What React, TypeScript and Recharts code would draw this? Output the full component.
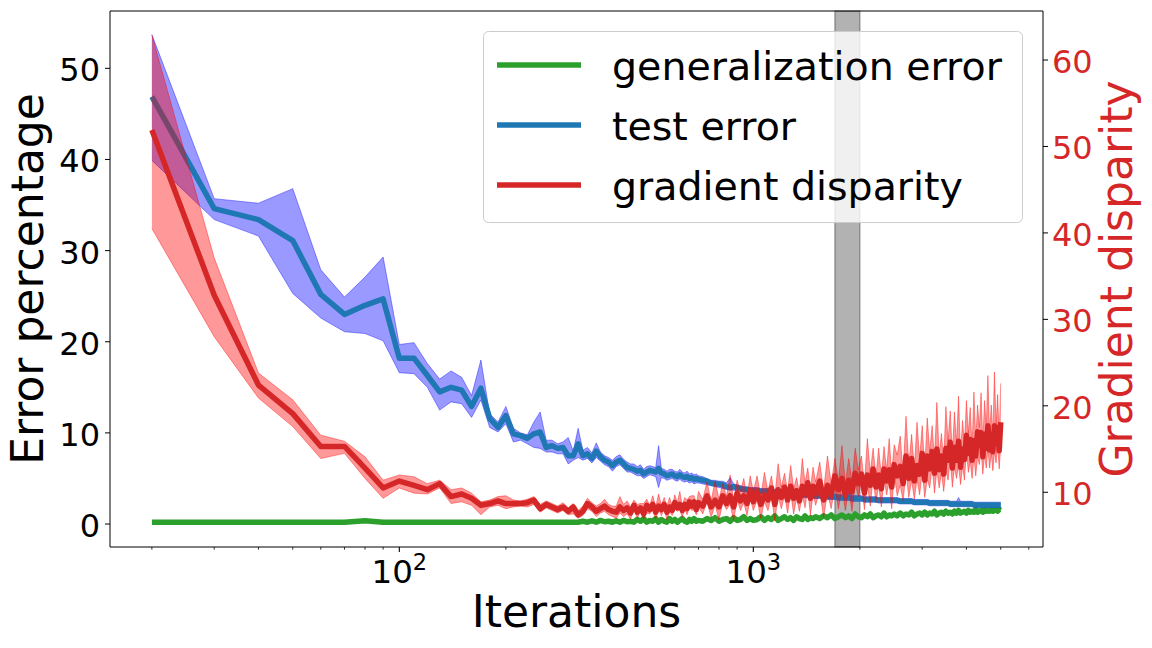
import React from 'react';
import { ComposedChart, Line, Area, XAxis, YAxis, ReferenceArea, ReferenceLine } from 'recharts';

const FONT = "'DejaVu Sans', sans-serif";

const iterations = [
  20, 30, 40, 50, 60, 70, 80, 90, 100, 110,
  120, 130, 140, 150, 160, 170, 180, 190, 200, 210,
  220, 230, 240, 250, 260, 270, 280, 290, 300, 310,
  320, 330, 340, 350, 360, 370, 380, 390, 400, 410,
  420, 430, 440, 450,
  460, 470, 480, 490, 500, 510, 520, 530, 540, 550, 560, 570, 580, 590, 600, 610, 620, 630, 640, 650, 660, 670, 680, 690, 700,
  720, 740, 760, 780, 800, 820, 840, 860, 880, 900, 920, 940, 960, 980, 1000,
  1025, 1050, 1075, 1100, 1125, 1150, 1175, 1200, 1225, 1250, 1275, 1300, 1325, 1350, 1375, 1400, 1425, 1450, 1475, 1500,
  1540, 1580, 1620, 1660, 1700, 1740, 1780, 1820, 1860, 1900, 1940, 1980, 2020, 2060, 2100, 2140, 2180, 2220, 2260, 2300, 2340, 2380, 2420, 2460, 2500,
  2550, 2600, 2650, 2700, 2750, 2800, 2850, 2900, 2950, 3000,
  3050, 3100, 3150, 3200, 3250, 3300, 3350, 3400, 3450, 3500,
  3550, 3600, 3650, 3700, 3750, 3800, 3850, 3900, 3950, 4000,
  4050, 4100, 4150, 4200, 4250, 4300, 4350, 4400, 4450, 4500,
  4550, 4600, 4650, 4700, 4750, 4800, 4850, 4900, 4950, 5000,
];

// error percentages (left axis)
const generalizationError = [
  0.2, 0.2, 0.2, 0.2, 0.2, 0.2, 0.35, 0.2, 0.2, 0.2,
  0.2, 0.2, 0.2, 0.2, 0.2, 0.2, 0.2, 0.2, 0.2, 0.2,
  0.2, 0.2, 0.2, 0.2, 0.2, 0.2, 0.2, 0.2, 0.2, 0.2,
  0.2, 0.3, 0.2, 0.35, 0.2, 0.4, 0.25, 0.3, 0.2, 0.35,
  0.2, 0.4, 0.25, 0.3,
  0.2, 0.5, 0.3, 0.6, 0.2, 0.4, 0.3, 0.6, 0.2, 0.5, 0.3, 0.2, 0.6, 0.3, 0.5, 0.2, 0.4, 0.6, 0.3, 0.2, 0.5, 0.3, 0.6, 0.3, 0.4,
  0.3, 0.6, 0.4, 0.7, 0.3, 0.5, 0.6, 0.3, 0.7, 0.4, 0.5, 0.8, 0.4, 0.6, 0.4,
  0.5, 0.8, 0.4, 0.7, 0.5, 0.9, 0.4, 0.6, 0.8, 0.5, 0.7, 0.4, 0.8, 0.6, 0.5, 0.9, 0.5, 0.7, 0.6, 0.8,
  0.6, 0.9, 0.7, 1.0, 0.6, 0.8, 1.0, 0.7, 0.9, 0.6, 1.1, 0.8, 0.7, 1.0, 0.8, 1.1, 0.7, 0.9, 1.0, 0.8, 1.2, 0.8, 1.0, 0.9, 1.1,
  0.9, 1.2, 0.9, 1.1, 1.0, 1.3, 0.9, 1.1, 1.2, 1.0,
  1.3, 1.0, 1.2, 1.1, 1.4, 1.0, 1.2, 1.3, 1.1, 1.4,
  1.2, 1.3, 1.1, 1.4, 1.2, 1.5, 1.2, 1.3, 1.4, 1.2,
  1.5, 1.3, 1.4, 1.3, 1.6, 1.3, 1.4, 1.5, 1.3, 1.6,
  1.4, 1.5, 1.4, 1.6, 1.4, 1.5, 1.6, 1.4, 1.6, 1.5,
];

const testError = [
  46.9, 34.6, 33.4, 31.1, 25.2, 23.0, 24.0, 24.7, 18.2, 18.2,
  16.3, 14.5, 15.0, 14.7, 12.9, 14.9, 11.6, 10.6, 11.9, 9.9,
  9.7, 9.4, 9.9, 10.1, 8.4, 8.6, 8.3, 8.4, 7.5, 7.5,
  8.8, 7.5, 7.7, 7.2, 8.0, 7.4, 7.0, 6.8, 6.4, 6.8,
  7.0, 6.6, 6.2, 6.1,
  6.0, 5.8, 5.9, 5.5, 5.7, 5.9, 5.8, 5.7, 6.1, 5.6, 5.5, 5.3, 5.4, 5.5, 5.3, 5.2, 5.4, 5.2, 5.1, 5.2, 5.0, 5.1, 4.9, 5.0, 4.9,
  4.8, 4.7, 4.5, 4.4, 4.4, 4.3, 4.1, 4.0, 4.1, 4.0, 3.9, 3.8, 3.8, 3.7, 3.7,
  3.7, 3.6, 3.6, 3.6, 3.5, 3.5, 3.5, 3.5, 3.4, 3.4, 3.4, 3.3, 3.3, 3.3, 3.2, 3.2, 3.2, 3.2, 3.1, 3.1,
  3.1, 3.1, 3.0, 3.0, 3.0, 2.9, 2.9, 2.9, 2.9, 2.8, 2.8, 2.8, 2.8, 2.7, 2.7, 2.7, 2.7, 2.7, 2.6, 2.6, 2.6, 2.6, 2.6, 2.6, 2.6,
  2.6, 2.5, 2.5, 2.5, 2.5, 2.5, 2.4, 2.4, 2.4, 2.4,
  2.4, 2.4, 2.3, 2.3, 2.3, 2.3, 2.3, 2.3, 2.3, 2.3,
  2.3, 2.2, 2.2, 2.2, 2.2, 2.2, 2.2, 2.2, 2.2, 2.2,
  2.2, 2.2, 2.2, 2.1, 2.1, 2.1, 2.1, 2.1, 2.1, 2.1,
  2.1, 2.1, 2.1, 2.1, 2.1, 2.1, 2.1, 2.1, 2.1, 2.1,
];

const testErrorLow = [
  39.9, 33.4, 31.6, 25.3, 22.6, 21.1, 20.9, 20.1, 16.6, 16.5,
  15.0, 12.5, 13.4, 13.2, 11.7, 13.6, 10.6, 10.1, 11.0, 9.0,
  9.2, 8.8, 8.4, 8.3, 7.9, 7.9, 7.7, 7.7, 6.6, 7.0,
  7.3, 7.0, 7.2, 6.7, 7.3, 6.9, 6.5, 6.3, 5.8, 6.3,
  6.5, 6.1, 5.7, 5.7,
  5.5, 5.3, 5.3, 5.0, 5.2, 5.4, 5.3, 5.2, 4.0, 5.1, 5.0, 4.8, 4.9, 5.0, 4.8, 4.7, 4.9, 4.7, 4.6, 4.7, 4.5, 4.6, 4.4, 4.5, 4.5,
  4.4, 4.3, 4.2, 4.1, 4.0, 3.9, 3.8, 3.7, 3.7, 3.7, 3.6, 3.5, 3.5, 3.4, 3.4,
  3.4, 3.3, 3.3, 3.3, 3.2, 3.2, 3.2, 3.2, 3.1, 3.1, 3.1, 3.0, 3.0, 3.0, 2.9, 2.9, 2.9, 2.9, 2.8, 2.8,
  2.8, 2.8, 2.7, 2.7, 2.7, 2.6, 2.6, 2.6, 2.6, 2.5, 2.5, 2.5, 2.5, 2.4, 2.4, 2.4, 2.4, 2.4, 2.3, 2.3, 2.3, 2.3, 2.3, 2.3, 2.3,
  2.3, 2.2, 2.2, 2.2, 2.2, 2.2, 2.1, 2.1, 2.1, 2.1,
  2.1, 2.1, 2.0, 2.0, 2.0, 2.0, 2.0, 2.0, 2.0, 2.0,
  2.0, 1.9, 1.9, 1.9, 1.9, 1.9, 1.9, 1.9, 1.9, 1.9,
  1.9, 1.9, 1.9, 1.8, 1.8, 1.8, 1.8, 1.8, 1.8, 1.8,
  1.8, 1.8, 1.8, 1.8, 1.8, 1.8, 1.8, 1.8, 1.8, 1.8,
];

const testErrorHigh = [
  53.7, 35.7, 35.2, 36.8, 27.9, 24.9, 27.1, 29.3, 19.7, 19.9,
  17.6, 15.9, 16.8, 16.1, 14.1, 18.0, 12.1, 11.2, 12.9, 10.5,
  10.0, 9.8, 11.2, 12.3, 9.2, 9.2, 8.8, 9.0, 9.5, 8.0,
  10.5, 8.1, 8.4, 7.8, 8.9, 7.9, 7.5, 7.3, 7.0, 7.4,
  7.6, 7.1, 6.8, 6.6,
  6.6, 6.3, 6.5, 6.0, 6.3, 6.4, 6.3, 6.2, 8.6, 6.1, 6.0, 5.8, 6.0, 6.0, 5.8, 5.7, 6.0, 5.7, 5.6, 5.8, 5.5, 5.6, 5.4, 5.5, 5.3,
  5.2, 5.0, 4.8, 4.8, 4.7, 4.7, 4.5, 5.1, 4.4, 4.3, 4.2, 4.1, 4.1, 4.0, 4.0,
  4.0, 3.9, 3.9, 3.9, 3.8, 3.8, 3.8, 3.8, 3.7, 3.7, 3.7, 3.6, 3.6, 3.6, 3.5, 3.5, 3.5, 3.5, 3.4, 3.4,
  3.4, 3.4, 3.3, 3.3, 3.3, 3.2, 3.2, 3.2, 3.6, 3.1, 3.1, 3.1, 3.1, 3.0, 3.0, 3.0, 3.0, 3.0, 2.9, 2.9, 2.9, 2.9, 2.9, 2.9, 2.9,
  2.9, 2.8, 2.8, 2.8, 2.8, 2.8, 2.7, 2.7, 2.7, 2.7,
  2.7, 2.7, 2.6, 2.6, 2.6, 2.6, 2.6, 2.6, 2.6, 2.6,
  2.6, 2.5, 2.5, 2.5, 2.5, 2.9, 2.5, 2.5, 2.5, 2.5,
  2.5, 2.5, 2.5, 2.4, 2.4, 2.4, 2.4, 2.4, 2.4, 2.4,
  2.4, 2.4, 2.4, 2.4, 2.4, 2.4, 2.4, 2.4, 2.4, 2.4,
];

// gradient disparity (right axis)
const gradientDisparity = [
  51.9, 32.8, 22.4, 19.1, 15.3, 15.3, 12.8, 10.5, 11.3, 10.8,
  10.3, 11.0, 9.5, 9.8, 9.3, 8.5, 8.7, 9.0, 8.7, 8.7,
  8.7, 8.8, 9.1, 8.1, 8.6, 8.3, 8.0, 8.3, 7.8, 8.3,
  7.4, 7.8, 8.7, 8.3, 7.8, 8.1, 8.4, 8.0, 7.8, 7.7,
  8.3, 7.9, 8.2, 7.6,
  8.5, 7.7, 8.2, 7.5, 8.5, 8.0, 8.6, 7.7, 8.4, 8.0, 8.6, 7.7, 8.3, 7.9, 8.8, 8.2, 8.6, 7.9, 8.6, 8.1, 8.9, 8.4, 8.9, 8.0, 8.8,
  8.4, 9.6, 8.3, 9.1, 8.3, 9.6, 8.7, 9.6, 8.3, 9.9, 9.0, 9.6, 8.7, 10.2, 8.9,
  10.1, 8.6, 9.7, 9.1, 10.5, 8.6, 10.3, 9.4, 10.6, 9.1, 10.7, 9.3, 10.2, 9.0, 10.7, 9.8, 11.1, 9.3, 10.7, 9.8,
  11.3, 9.1, 10.8, 9.7, 11.9, 10.3, 11.6, 9.6, 11.4, 10.1, 12.2, 11.0, 12.1, 9.9, 12.0, 10.8, 12.7, 10.6, 12.0, 10.4, 12.7, 11.3, 12.6, 10.6, 13.2,
  11.9, 13.0, 11.0, 14.2, 11.6, 13.9, 11.3, 13.1, 12.1, 14.5,
  11.4, 14.2, 12.7, 14.7, 12.2, 15.0, 12.6, 14.2, 12.1, 15.1,
  13.7, 15.8, 12.8, 15.2, 13.7, 15.9, 12.9, 15.0, 13.8, 16.6,
  14.5, 16.1, 13.7, 16.0, 14.2, 17.0, 15.4, 16.9, 14.1, 16.7,
  15.1, 17.7, 14.9, 16.7, 14.7, 17.7, 15.7, 17.5, 14.8, 18.1,
];

const gradientDisparityLow = [
  40.5, 28.0, 20.9, 17.6, 13.9, 14.5, 11.6, 9.3, 10.5, 9.9,
  9.8, 10.5, 8.7, 8.9, 8.5, 7.4, 8.3, 8.5, 8.1, 8.3,
  8.4, 8.3, 8.6, 7.7, 8.2, 7.9, 7.6, 7.9, 7.4, 7.5,
  7.0, 7.3, 8.1, 7.8, 7.2, 7.6, 7.8, 7.4, 7.2, 7.0,
  7.6, 7.2, 7.5, 6.9,
  8.0, 7.0, 7.8, 6.9, 7.6, 7.5, 8.0, 6.9, 8.0, 7.3, 8.1, 6.8, 7.8, 7.3, 8.1, 7.8, 8.0, 7.1, 8.1, 7.4, 8.3, 7.9, 8.0, 7.4, 8.3,
  7.5, 8.9, 7.1, 8.5, 6.8, 8.8, 8.0, 8.6, 6.7, 9.2, 7.9, 8.8, 7.3, 9.3, 7.9,
  9.1, 7.0, 8.9, 7.9, 9.6, 6.7, 9.6, 8.1, 9.6, 7.6, 9.9, 7.5, 9.3, 7.8, 9.7, 8.2, 10.4, 7.3, 9.8, 8.5,
  10.1, 7.1, 9.9, 8.1, 10.8, 8.1, 10.7, 7.9, 10.4, 7.8, 11.0, 9.5, 11.2, 8.0, 10.9, 8.4, 11.7, 8.8, 10.8, 8.3, 11.8, 9.7, 11.3, 8.1, 12.1,
  9.6, 10.8, 9.0, 12.4, 9.4, 11.4, 9.2, 11.5, 9.7, 12.4,
  9.4, 11.5, 10.5, 13.0, 9.9, 12.6, 10.5, 12.3, 10.1, 12.5,
  11.4, 14.0, 10.6, 12.9, 11.6, 13.1, 10.9, 13.0, 11.4, 14.9,
  12.3, 13.6, 11.6, 14.1, 11.9, 14.1, 13.2, 14.8, 12.1, 14.3,
  12.8, 15.1, 12.8, 14.5, 12.5, 14.7, 13.4, 15.5, 12.7, 15.4,
];

const gradientDisparityHigh = [
  62.9, 37.1, 23.8, 20.7, 16.6, 15.9, 14.1, 11.4, 12.0, 11.8,
  11.0, 11.4, 10.3, 10.5, 9.9, 8.9, 9.1, 9.5, 9.6, 9.1,
  9.0, 9.2, 9.5, 8.6, 9.0, 8.7, 8.4, 8.8, 8.2, 8.7,
  7.9, 8.4, 9.3, 8.8, 8.4, 8.7, 9.2, 8.6, 8.4, 8.4,
  9.5, 8.6, 9.0, 8.3,
  9.1, 8.6, 8.7, 8.7, 9.2, 8.5, 9.6, 8.3, 9.8, 8.5, 9.4, 8.4, 9.4, 8.4, 9.7, 8.8, 10.1, 8.4, 9.4, 9.1, 9.5, 9.6, 9.6, 8.5, 10.1,
  9.2, 11.2, 9.0, 11.3, 9.2, 11.0, 9.5, 12.0, 9.0, 11.4, 10.1, 11.6, 9.5, 11.9, 10.1,
  11.9, 9.5, 12.3, 10.1, 11.9, 9.4, 13.3, 10.6, 12.2, 10.1, 13.1, 10.4, 11.7, 9.9, 13.9, 11.1, 12.8, 10.3, 12.9, 11.2,
  13.5, 10.2, 14.2, 11.0, 13.9, 11.3, 15.4, 11.0, 13.9, 11.3, 15.1, 12.6, 14.2, 11.0, 16.2, 12.3, 15.1, 11.8, 15.1, 11.8, 15.3, 12.6, 16.2, 12.1, 15.5,
  14.3, 16.5, 12.3, 18.8, 13.2, 16.7, 12.7, 18.1, 13.9, 17.7,
  12.7, 18.6, 14.7, 17.7, 13.7, 20.4, 14.3, 16.8, 13.5, 19.9,
  15.9, 19.4, 14.3, 19.3, 15.6, 21.1, 14.3, 18.3, 15.6, 20.6,
  16.8, 19.8, 15.2, 21.6, 16.0, 20.1, 17.5, 21.5, 15.7, 20.6,
  17.5, 23.5, 16.6, 20.1, 16.6, 23.9, 17.7, 21.3, 16.4, 22.6,
];

const xTicks = [20, 30, 40, 50, 60, 70, 80, 90, 100, 200, 300, 400, 500, 600, 700, 800, 900, 1000, 2000, 3000, 4000, 5000, 6000];
const majorXTicks = [100, 1000];
const errorTicks = [0, 10, 20, 30, 40, 50];
const disparityTicks = [10, 20, 30, 40, 50, 60];
const shadedIterations = [1700, 2000];

const legendItems = [
  { label: 'generalization error', color: '#2ca02c' },
  { label: 'test error', color: '#1f77b4' },
  { label: 'gradient disparity', color: '#d62728' },
];

const rows = iterations.map((n, i) => ({
  n,
  gen: generalizationError[i],
  test: testError[i],
  testBand: [testErrorLow[i], testErrorHigh[i]],
  grad: gradientDisparity[i],
  gradBand: [gradientDisparityLow[i], gradientDisparityHigh[i]],
}));

function XTick({ x, y, payload }: any) {
  const v = payload.value;
  const major = majorXTicks.includes(v);
  return (
    <g>
      <line x1={x} y1={y} x2={x} y2={y + (major ? 5 : 2.7)} stroke="#000" strokeWidth={major ? 1.1 : 0.8} />
      {major && (
        <text x={x} y={y + 36} textAnchor="middle" fontSize={32.5} fill="#000" fontFamily={FONT}>
          10<tspan dy={-13} fontSize={22.5}>{Math.round(Math.log10(v))}</tspan>
        </text>
      )}
    </g>
  );
}

function LeftTick({ x, y, payload }: any) {
  return (
    <text x={x} y={y + 13} textAnchor="end" fontSize={32} fill="#000" fontFamily={FONT}>
      {payload.value}
    </text>
  );
}

function RightTick({ x, y, payload }: any) {
  return (
    <text x={x} y={y + 13} textAnchor="start" fontSize={32} fill="#d62728" fontFamily={FONT}>
      {payload.value}
    </text>
  );
}

export default function App() {
  return (
    <div style={{ position: 'absolute', left: 0, top: 0, width: 1152, height: 648, background: '#fff', fontFamily: FONT }}>
      <ComposedChart width={1152} height={648} data={rows} margin={{ top: 11, right: 0, bottom: 0, left: 0 }}>
        <XAxis
          dataKey="n"
          type="number"
          scale="log"
          domain={[15.23, 6582]}
          allowDataOverflow
          ticks={xTicks}
          interval={0}
          height={101}
          tickSize={0}
          tickMargin={0}
          tickLine={false}
          tick={<XTick />}
          axisLine={{ stroke: '#000', strokeWidth: 1.1 }}
          label={() => (
            <text x={576.5} y={627} textAnchor="middle" fontSize={44} fill="#000" fontFamily={FONT}>
              Iterations
            </text>
          )}
        />
        <YAxis
          yAxisId="left"
          width={110}
          domain={[-2.52, 56.29]}
          allowDataOverflow
          ticks={errorTicks}
          interval={0}
          tickSize={5}
          tickMargin={5}
          stroke="#000"
          tick={<LeftTick />}
          label={() => (
            <text x={43} y={279} transform="rotate(-90 43 279)" textAnchor="middle" fontSize={44} fill="#000" fontFamily={FONT}>
              Error percentage
            </text>
          )}
        />
        <YAxis
          yAxisId="right"
          orientation="right"
          width={109}
          domain={[3.67, 65.67]}
          allowDataOverflow
          ticks={disparityTicks}
          interval={0}
          tickSize={5}
          tickMargin={4}
          stroke="#000"
          tick={<RightTick />}
          label={() => (
            <text x={1132} y={279} transform="rotate(-90 1132 279)" textAnchor="middle" fontSize={44} fill="#d62728" fontFamily={FONT}>
              Gradient disparity
            </text>
          )}
        />
        <ReferenceArea
          yAxisId="left"
          x1={shadedIterations[0]}
          x2={shadedIterations[1]}
          fill="#000"
          fillOpacity={0.3}
          stroke="#000"
          strokeOpacity={0.3}
          strokeWidth={1.5}
          ifOverflow="visible"
          zIndex={10}
        />
        <ReferenceLine yAxisId="left" y={56.29} stroke="#000" strokeWidth={1.1} ifOverflow="visible" />
        <Line
          yAxisId="left"
          type="linear"
          dataKey="gen"
          stroke="#2ca02c"
          strokeWidth={5.5}
          strokeLinejoin="round"
          dot={false}
          activeDot={false}
          isAnimationActive={false}
          zIndex={20}
        />
        <Area
          yAxisId="left"
          type="linear"
          dataKey="testBand"
          stroke="#0000ff"
          strokeOpacity={0.4}
          strokeWidth={1}
          fill="#0000ff"
          fillOpacity={0.4}
          dot={false}
          activeDot={false}
          isAnimationActive={false}
          zIndex={30}
        />
        <Line
          yAxisId="left"
          type="linear"
          dataKey="test"
          stroke="#1f77b4"
          strokeWidth={5.5}
          strokeLinejoin="round"
          dot={false}
          activeDot={false}
          isAnimationActive={false}
          zIndex={40}
        />
        <Area
          yAxisId="right"
          type="linear"
          dataKey="gradBand"
          stroke="#ff0000"
          strokeOpacity={0.4}
          strokeWidth={1}
          fill="#ff0000"
          fillOpacity={0.4}
          dot={false}
          activeDot={false}
          isAnimationActive={false}
          zIndex={50}
        />
        <Line
          yAxisId="right"
          type="linear"
          dataKey="grad"
          stroke="#d62728"
          strokeWidth={5.5}
          strokeLinejoin="round"
          dot={false}
          activeDot={false}
          isAnimationActive={false}
          zIndex={60}
        />
      </ComposedChart>
      <svg width={1152} height={648} style={{ position: 'absolute', left: 0, top: 0, pointerEvents: 'none' }}>
        <rect x={483.5} y={31.5} width={539} height={191} rx={5} fill="#fff" fillOpacity={0.8} stroke="#cccccc" strokeWidth={1} />
        {legendItems.map((item, i) => (
          <g key={item.label}>
            <line x1={497} x2={581} y1={65 + i * 60} y2={65 + i * 60} stroke={item.color} strokeWidth={5.5} />
            <text x={612} y={80 + i * 60} fontSize={39.5} fill="#000" fontFamily={FONT}>
              {item.label}
            </text>
          </g>
        ))}
      </svg>
    </div>
  );
}
